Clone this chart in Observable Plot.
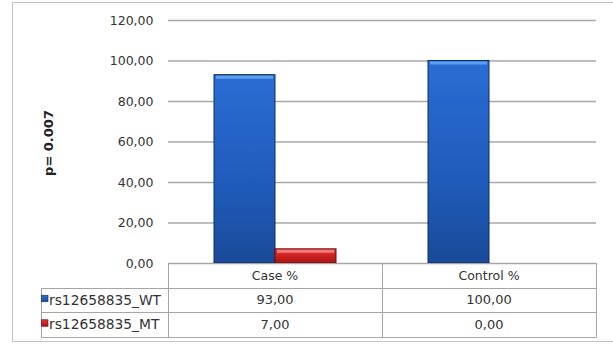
<!DOCTYPE html>
<html>
<head>
<meta charset="utf-8">
<script src="https://cdn.jsdelivr.net/npm/d3@7"></script>
<script src="https://cdn.jsdelivr.net/npm/@observablehq/plot@0.6"></script>
<style>
  html, body { margin: 0; padding: 0; background: #fff; }
  #chart svg { display: block; }
</style>
</head>
<body>
<div id="chart"></div>
<script>
// ---- data ----
const categories = ["Case %", "Control %"];
const series = ["rs12658835_WT", "rs12658835_MT"];
const wtValues = [93, 100];
const mtValues = [7, 0];
const yTicks = [0, 20, 40, 60, 80, 100, 120];
const yLabel = "p= 0.007";

const fmt = v => v.toFixed(2).replace(".", ",");
const seriesValues = [wtValues, mtValues];
const rows = [];
series.forEach((s, si) => categories.forEach((c, ci) => rows.push({series: s, category: c, value: seriesValues[si][ci]})));
const wtRows = rows.filter(d => d.series === series[0]);
const mtRows = rows.filter(d => d.series === series[1]);

const W = 613, H = 344;
const font = "'DejaVu Sans', 'Open Sans', sans-serif";

const plot = Plot.plot({
  width: W,
  height: H,
  marginLeft: 168,
  marginRight: 17,
  marginTop: 20,
  marginBottom: 81,
  style: {fontFamily: font, fontSize: "12px", background: "white", color: "#333"},
  fx: {domain: categories, padding: 0, axis: null, label: null},
  x: {domain: series, paddingInner: 0, paddingOuter: 0.726, axis: null, label: null},
  y: {domain: [0, 120], axis: null, label: null},
  marks: [
    Plot.gridY(yTicks, {stroke: "#a9a9a9", strokeOpacity: 1, strokeWidth: 1.3}),
    Plot.axisY(yTicks, {tickSize: 0, tickPadding: 15, tickFormat: fmt, label: null, fill: "#333", fontSize: 12.5}),
    Plot.barY(wtRows, {fx: "category", x: "series", y: "value", fill: "url(#gradWT)", stroke: "#0f2c62", strokeWidth: 1}),
    Plot.barY(mtRows.filter(d => d.value > 0), {fx: "category", x: "series", y: "value", fill: "url(#gradMT)", stroke: "#6e0b0b", strokeWidth: 1}),
    Plot.tickY(wtRows, {fx: "category", x: "series", y: "value", stroke: "#5c9ff0", strokeWidth: 3, dy: 2, inset: 2}),
    Plot.tickY(mtRows.filter(d => d.value > 0), {fx: "category", x: "series", y: "value", stroke: "#f07a7a", strokeWidth: 3, dy: 2, inset: 2})
  ]
});

const svg = d3.select(plot);
// gradients
const defs = svg.insert("defs", ":first-child");
function grad(id, stops) {
  const g = defs.append("linearGradient").attr("id", id).attr("x1", 0).attr("y1", 0).attr("x2", 0).attr("y2", 1);
  stops.forEach(([o, c]) => g.append("stop").attr("offset", o).attr("stop-color", c));
}
grad("gradWT", [[0, "#2a6dd3"], [0.6, "#1f5bba"], [1, "#1a4a98"]]);
grad("gradMT", [[0, "#e43434"], [1, "#b01212"]]);

// y-axis title
svg.append("text")
  .attr("transform", `translate(53,143) rotate(-90)`)
  .attr("text-anchor", "middle")
  .attr("font-family", font)
  .attr("font-weight", "bold")
  .attr("font-size", 13)
  .attr("fill", "#222")
  .text(yLabel);

// data table under the chart, positioned through the plot's scales
const fxS = plot.scale("fx");
const yS = plot.scale("y");
const fxBand = d3.scaleBand(fxS.domain, fxS.range).paddingInner(0).paddingOuter(0);
const y0 = yS.apply(0);
const rowH = 24.5;
const tableLeft = 41;
const left = fxBand.range()[0], right = fxBand.range()[1];
const lineColor = "#a6a6a6";
const tg = svg.append("g").attr("font-family", font).attr("font-size", 12.5).attr("fill", "#333");

// horizontal lines
tg.append("line").attr("x1", left).attr("x2", right).attr("y1", y0 + 0.5).attr("y2", y0 + 0.5).attr("stroke", lineColor);
for (let r = 1; r <= 3; r++) {
  const yy = Math.round(y0 + r * rowH) + 0.5;
  tg.append("line").attr("x1", tableLeft).attr("x2", right).attr("y1", yy).attr("y2", yy).attr("stroke", lineColor);
}
// vertical lines
const bottom = Math.round(y0 + 3 * rowH) + 0.5;
tg.append("line").attr("x1", tableLeft + 0.5).attr("x2", tableLeft + 0.5).attr("y1", Math.round(y0 + rowH) + 0.5).attr("y2", bottom).attr("stroke", lineColor);
const vx = [left, ...categories.slice(1).map(c => fxBand(c)), right];
vx.forEach(x => tg.append("line").attr("x1", Math.round(x) + 0.5).attr("x2", Math.round(x) + 0.5).attr("y1", y0).attr("y2", bottom).attr("stroke", lineColor));

// header texts
categories.forEach(c => {
  tg.append("text").attr("x", fxBand(c) + fxBand.bandwidth() / 2).attr("y", y0 + rowH / 2)
    .attr("dy", "0.35em").attr("text-anchor", "middle").text(c);
});
// rows
const markerFill = ["url(#gradWT)", "url(#gradMT)"];
const markerStroke = ["#0f2c62", "#6e0b0b"];
series.forEach((s, si) => {
  const cy = y0 + rowH * (si + 1) + rowH / 2;
  tg.append("rect").attr("x", tableLeft + 0.5).attr("y", cy - 4.5).attr("width", 6.5).attr("height", 6.5)
    .attr("fill", markerFill[si]).attr("stroke", markerStroke[si]).attr("stroke-width", 0.6);
  tg.append("text").attr("x", tableLeft + 8).attr("y", cy).attr("dy", "0.35em")
    .attr("text-anchor", "start").attr("font-size", 13.8).text(s);
  categories.forEach((c, ci) => {
    tg.append("text").attr("x", fxBand(c) + fxBand.bandwidth() / 2).attr("y", cy)
      .attr("dy", "0.35em").attr("text-anchor", "middle").attr("font-size", 13).text(fmt(seriesValues[si][ci]));
  });
});

// outer chart border
svg.append("rect").attr("x", 12.5).attr("y", 2.5).attr("width", 640).attr("height", 339)
  .attr("fill", "none").attr("stroke", "#c4c4c4");

document.getElementById("chart").appendChild(plot);
</script>
</body>
</html>
